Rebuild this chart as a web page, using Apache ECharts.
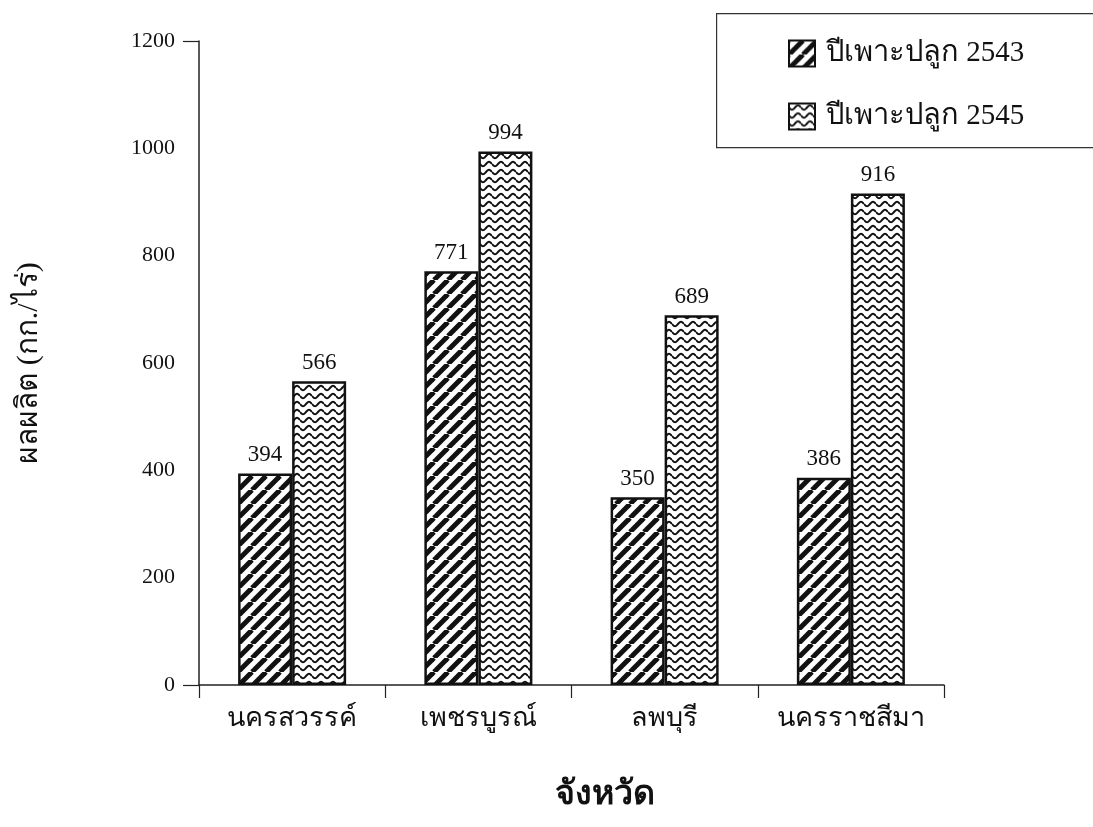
<!DOCTYPE html>
<html>
<head>
<meta charset="utf-8">
<script src="https://cdn.jsdelivr.net/npm/echarts@6/dist/echarts.min.js"></script>
<style>
  html, body { margin: 0; padding: 0; background: #fff; }
  #chart { width: 1093px; height: 827px; }
</style>
</head>
<body>
<div id="chart"></div>
<script>
// Yields (kg per rai) by province, two planting seasons
const provinces = ['นครสวรรค์', 'เพชรบูรณ์', 'ลพบุรี', 'นครราชสีมา'];
const season2543 = [394, 771, 350, 386];
const season2545 = [566, 994, 689, 916];
const seriesNames = ['ปีเพาะปลูก 2543', 'ปีเพาะปลูก 2545'];
const yTicks = [0, 200, 400, 600, 800, 1000, 1200];

const FONT = '"Liberation Serif", "Noto Sans", serif';

// Diagonal stripe fill
function stripeFill() {
  const s = 14;
  const c = document.createElement('canvas');
  c.width = s; c.height = s;
  const g = c.getContext('2d');
  g.fillStyle = '#fff';
  g.fillRect(0, 0, s, s);
  g.strokeStyle = '#111';
  g.lineWidth = 5;
  for (let k = -1; k <= 1; k++) {
    g.beginPath();
    g.moveTo(k * s, s);
    g.lineTo(k * s + s, 0);
    g.stroke();
  }
  return { image: c, repeat: 'repeat' };
}

// Wavy line fill
function waveFill() {
  const w = 12, h = 8;
  const c = document.createElement('canvas');
  c.width = w; c.height = h;
  const g = c.getContext('2d');
  g.fillStyle = '#fff';
  g.fillRect(0, 0, w, h);
  g.strokeStyle = '#111';
  g.lineWidth = 2;
  g.beginPath();
  for (let x = 0; x <= w; x += 0.5) {
    const y = 4 + 2.2 * Math.sin((x / w) * Math.PI * 2);
    if (x === 0) g.moveTo(x, y); else g.lineTo(x, y);
  }
  g.stroke();
  return { image: c, repeat: 'repeat' };
}

const chart = echarts.init(document.getElementById('chart'), null, { renderer: 'canvas' });

const labelStyle = {
  show: true,
  position: 'top',
  distance: 7,
  fontFamily: FONT,
  fontSize: 23,
  color: '#111'
};

chart.setOption({
  animation: false,
  backgroundColor: '#fff',
  grid: { left: 199, right: 149, top: 41, bottom: 142 },
  graphic: [
    {
      type: 'rect',
      left: 716, top: 13,
      shape: { width: 400, height: 134 },
      style: { fill: '#fff', stroke: '#333', lineWidth: 1.2 },
      z: 5
    },
    {
      type: 'text',
      left: 555, top: 778,
      style: { text: 'จังหวัด', font: 'bold 34px "Liberation Serif", "Noto Sans", serif', fill: '#111' }
    }
  ],
  legend: {
    orient: 'vertical',
    left: 783,
    top: 34,
    icon: 'rect',
    itemWidth: 26,
    itemHeight: 26,
    itemGap: 34,
    z: 10,
    textStyle: { fontFamily: FONT, fontSize: 29, color: '#111', padding: [0, 0, 0, 6] },
    data: seriesNames
  },
  xAxis: {
    type: 'category',
    data: provinces,
    axisLine: { lineStyle: { color: '#222', width: 1.5 } },
    axisTick: { show: true, interval: 0, length: 13, alignWithLabel: false, lineStyle: { color: '#222', width: 1.2 } },
    axisLabel: { interval: 0, fontFamily: FONT, fontSize: 27, color: '#111', margin: 20 }
  },
  yAxis: {
    type: 'value',
    min: 0,
    max: 1200,
    interval: 200,
    name: 'ผลผลิต (กก./ไร่)',
    nameLocation: 'middle',
    nameGap: 155,
    nameRotate: 90,
    nameTextStyle: { fontFamily: FONT, fontSize: 30, color: '#111' },
    splitLine: { show: false },
    axisLine: { show: true, lineStyle: { color: '#222', width: 1.5 } },
    axisTick: { show: true, length: 16, customValues: [0, 1200], lineStyle: { color: '#222', width: 1.2 } },
    axisLabel: {
      fontFamily: FONT, fontSize: 22, color: '#111', margin: 24,
      customValues: yTicks,
      formatter: (v) => String(v)
    }
  },
  series: [
    {
      name: seriesNames[0],
      type: 'bar',
      data: season2543,
      barWidth: '29%',
      barGap: '0%',
      itemStyle: { color: stripeFill(), borderColor: '#111', borderWidth: 2.5 },
      label: labelStyle
    },
    {
      name: seriesNames[1],
      type: 'bar',
      data: season2545,
      barWidth: '29%',
      itemStyle: { color: waveFill(), borderColor: '#111', borderWidth: 2.5 },
      label: labelStyle
    }
  ]
});
</script>
</body>
</html>
